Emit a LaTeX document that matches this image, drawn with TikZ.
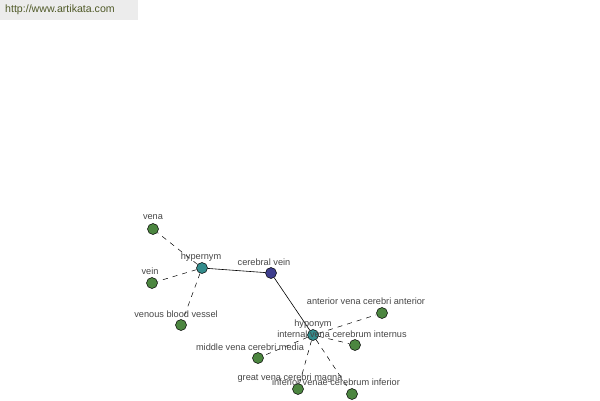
\documentclass[tikz,border=0pt]{standalone}
\usepackage{fontspec}
\setmainfont{Liberation Sans}
\definecolor{leafgreen}{RGB}{76,134,64}
\definecolor{relteal}{RGB}{52,140,140}
\definecolor{rootblue}{RGB}{62,62,142}
\definecolor{labelgray}{RGB}{70,70,70}
\definecolor{bargray}{RGB}{236,236,236}
\definecolor{urlgreen}{RGB}{80,90,40}
\tikzset{
  dot/.style={circle,draw=black,line width=0.5pt,minimum size=11pt,inner sep=0pt},
  leaf/.style={dot,fill=leafgreen},
  lbl/.style={text=labelgray,font=\fontsize{9.2}{11}\selectfont,inner sep=0pt},
  weak/.style={dashed,dash pattern=on 5pt off 5pt,line width=0.5pt},
  strong/.style={line width=0.6pt}
}
\begin{document}
\begin{tikzpicture}[x=1pt,y=-1pt]
    \useasboundingbox (0,0) rectangle (600,400);
    \fill[bargray] (0,0) rectangle (138,20);
    \node[text=urlgreen,font=\fontsize{10.6}{12}\selectfont,anchor=west,inner sep=0pt] (url) at (5,10) {http://www.artikata.com};
    % nodes
    \node[dot,fill=relteal] (hyper) at (202,268) {};
    \node[dot,fill=rootblue] (cv) at (271,273) {};
    \node[dot,fill=relteal] (hypo) at (313,335) {};
    \node[leaf] (vena) at (153,229) {};
    \node[leaf] (vein) at (152,283) {};
    \node[leaf] (vbv) at (181,325) {};
    \node[leaf] (ant) at (382,313) {};
    \node[leaf] (int) at (355,345) {};
    \node[leaf] (mid) at (258,358) {};
    \node[leaf] (great) at (298,389) {};
    \node[leaf] (inf) at (352,394) {};
    % edges
    \draw[strong] (hyper) -- (cv);
    \draw[strong] (cv) -- (hypo);
    \foreach \n in {vena,vein,vbv}
      \draw[weak] (hyper) -- (\n);
    \foreach \n in {ant,int,mid,great,inf}
      \draw[weak] (hypo) -- (\n);
    % labels
    \node[lbl] (lvena) at (153,217) {vena};
    \node[lbl] (lvein) at (150,271) {vein};
    \node[lbl] (lvbv) at (176,314) {venous blood vessel};
    \node[lbl] (lhyper) at (201,257) {hypernym};
    \node[lbl] (lcv) at (264,262) {cerebral vein};
    \node[lbl] (lhypo) at (313,324) {hyponym};
    \node[lbl] (lant) at (366,301) {anterior vena cerebri anterior};
    \node[lbl] (lint) at (342,334) {internal vena cerebrum internus};
    \node[lbl] (lmid) at (250,347) {middle vena cerebri media};
    \node[lbl] (lgreat) at (290,378) {great vena cerebri magna};
    \node[lbl] (linf) at (336,382) {inferior venae cerebrum inferior};
  \end{tikzpicture}
\end{document}
